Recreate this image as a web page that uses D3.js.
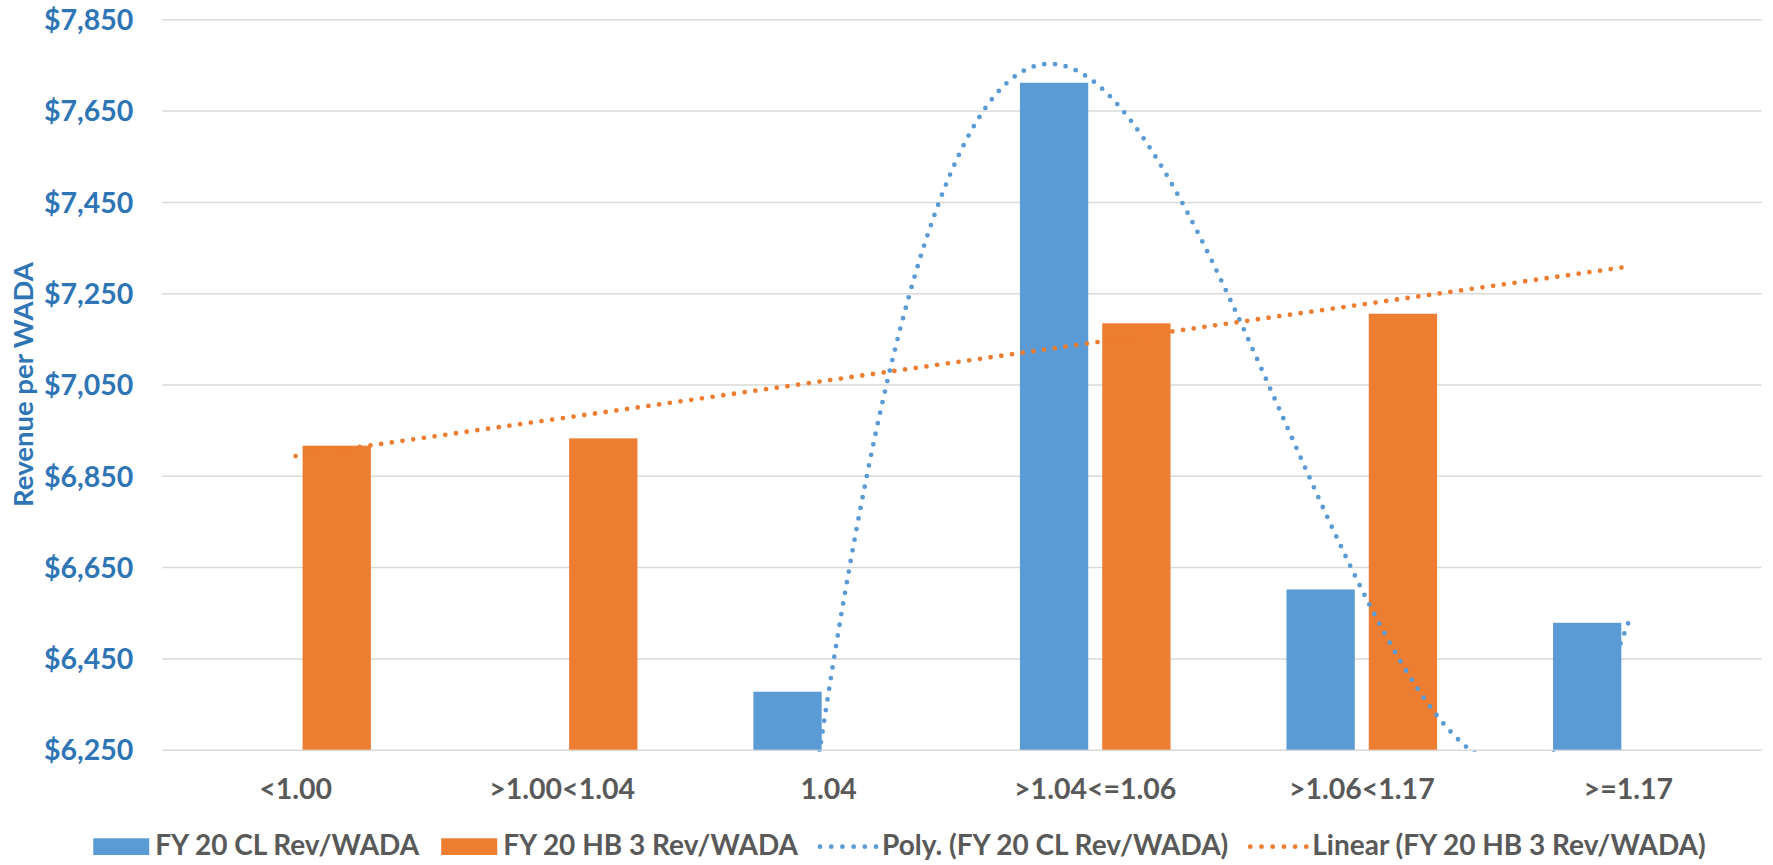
<!DOCTYPE html>
<html>
<head>
<meta charset="utf-8">
<script src="https://cdn.jsdelivr.net/npm/d3@7"></script>
<style>
  html, body { margin: 0; padding: 0; background: #ffffff; }
  svg { display: block; font-family: Lato, "Open Sans", sans-serif; font-weight: 700; }
</style>
</head>
<body>
<svg id="chart" width="1773" height="865"></svg>
<script>
// Categories and series
const categories = ["<1.00", ">1.00<1.04", "1.04", ">1.04<=1.06", ">1.06<1.17", ">=1.17"];
const seriesNames = ["FY 20 CL Rev/WADA", "FY 20 HB 3 Rev/WADA"];
const clValues = [null, null, 6377, 7711, 6601, 6528];
const hbValues = [6916, 6932, null, 7184, 7205, null];
const yTicks = [6250, 6450, 6650, 6850, 7050, 7250, 7450, 7650, 7850];
const trendNames = ["Poly. (FY 20 CL Rev/WADA)", "Linear (FY 20 HB 3 Rev/WADA)"];

const BLUE = "#5B9BD5", ORANGE = "#ED7D31", AXISBLUE = "#2E75B6", GREY = "#595959", GRID = "#D9D9D9";

const svg = d3.select("#chart");
const plot = { left: 162.3, right: 1761.6, top: 19.3, bottom: 749.7 };

const x0 = d3.scaleBand().domain(categories).range([plot.left, plot.right]).padding(0);
const x1 = d3.scaleBand().domain(seriesNames).range([0, x0.bandwidth()])
  .paddingInner(0.17).paddingOuter(0.7045);
const y = d3.scaleLinear().domain([6250, 7850]).range([plot.bottom, plot.top]);

// category index (1-based, as a trendline sees it) -> pixel x at band centre
const xIdx = i => x0(categories[0]) + (i - 0.5) * x0.bandwidth();

// Gridlines + value axis
const yAxis = d3.axisLeft(y).tickValues(yTicks)
  .tickFormat(v => "$" + d3.format(",")(v))
  .tickSize(-(plot.right - plot.left)).tickPadding(29);
const gy = svg.append("g").attr("transform", `translate(${plot.left},0)`).call(yAxis);
gy.select(".domain").remove();
gy.selectAll(".tick line").attr("stroke", GRID).attr("stroke-width", 1.5);
gy.selectAll(".tick text").attr("fill", AXISBLUE).attr("font-size", 28.5)
  .attr("font-family", "Lato, sans-serif").attr("font-weight", 700).attr("dy", "0.36em");

// Category axis labels
const gx = svg.append("g").attr("transform", `translate(0,${plot.bottom})`)
  .call(d3.axisBottom(x0).tickSize(0).tickPadding(0));
gx.select(".domain").remove();
gx.selectAll(".tick text").attr("fill", GREY).attr("font-size", 28.5)
  .attr("font-family", "Lato, sans-serif").attr("font-weight", 700)
  .attr("dy", null).attr("y", 49.6);

// Bars
const rows = categories.map((c, i) => ({ c, vals: [clValues[i], hbValues[i]] }));
const colors = [BLUE, ORANGE];
const barG = svg.append("g");
rows.forEach(r => {
  r.vals.forEach((v, k) => {
    if (v == null) return;
    barG.append("rect")
      .attr("x", x0(r.c) + x1(seriesNames[k]))
      .attr("width", x1.bandwidth())
      .attr("y", y(v))
      .attr("height", y(6250) - y(v))
      .attr("fill", colors[k]);
  });
});

// Trendlines
svg.append("clipPath").attr("id", "plotclip").append("rect")
  .attr("x", plot.left).attr("y", plot.top - 20)
  .attr("width", plot.right - plot.left).attr("height", plot.bottom - plot.top + 22);

function points(vals) {
  return vals.map((v, i) => ({ x: i + 1, v })).filter(p => p.v != null);
}
// least squares polynomial of given order
function polyFit(pts, order) {
  const n = order + 1;
  const A = Array.from({ length: n }, () => new Array(n + 1).fill(0));
  pts.forEach(p => {
    for (let r = 0; r < n; r++) {
      for (let c = 0; c < n; c++) A[r][c] += Math.pow(p.x, r + c);
      A[r][n] += p.v * Math.pow(p.x, r);
    }
  });
  for (let i = 0; i < n; i++) {
    let m = i;
    for (let r = i + 1; r < n; r++) if (Math.abs(A[r][i]) > Math.abs(A[m][i])) m = r;
    [A[i], A[m]] = [A[m], A[i]];
    for (let r = 0; r < n; r++) {
      if (r === i) continue;
      const f = A[r][i] / A[i][i];
      for (let c = i; c <= n; c++) A[r][c] -= f * A[i][c];
    }
  }
  const coef = A.map((row, i) => row[n] / row[i]);
  return xv => coef.reduce((s, a, k) => s + a * Math.pow(xv, k), 0);
}

const clPts = points(clValues), hbPts = points(hbValues);
const polyF = polyFit(clPts, 3);
const linF = polyFit(hbPts, 1);

const line = d3.line().x(d => xIdx(d[0])).y(d => y(d[1]));
function trend(f, x0v, x1v, color) {
  const data = d3.range(0, 401).map(k => {
    const xv = x0v + (x1v - x0v) * k / 400;
    return [xv, f(xv)];
  });
  svg.append("path").attr("clip-path", "url(#plotclip)")
    .attr("d", line(data)).attr("fill", "none").attr("stroke", color)
    .attr("stroke-width", 4.8).attr("stroke-linecap", "round")
    .attr("stroke-dasharray", "0 10.8");
}
trend(polyF, clPts[0].x - 0.035, clPts[clPts.length - 1].x, BLUE);
trend(linF, hbPts[0].x, 6, ORANGE);

// Value axis title
svg.append("text")
  .attr("transform", `translate(33.3,${(plot.top + plot.bottom) / 2}) rotate(-90)`)
  .attr("text-anchor", "middle").attr("fill", AXISBLUE)
  .attr("font-size", 27.5).text("Revenue per WADA");

// Legend
const legend = svg.append("g");
const items = [
  { name: seriesNames[0], color: BLUE, kind: "box" },
  { name: seriesNames[1], color: ORANGE, kind: "box" },
  { name: trendNames[0], color: BLUE, kind: "dots" },
  { name: trendNames[1], color: ORANGE, kind: "dots" }
];
const baseY = 855, swW = 56, swGap = 6, itemGap = 22;
let cx = 0;
items.forEach(it => {
  const g = legend.append("g").attr("transform", `translate(${cx},0)`);
  if (it.kind === "box") {
    g.append("rect").attr("x", 0).attr("y", baseY - 16.7).attr("width", swW).attr("height", 16.7)
      .attr("fill", it.color);
  } else {
    g.append("line").attr("x1", 0).attr("x2", swW).attr("y1", baseY - 8.3).attr("y2", baseY - 8.3)
      .attr("stroke", it.color).attr("stroke-width", 4.8).attr("stroke-linecap", "round")
      .attr("stroke-dasharray", `0 ${swW / 5}`);
  }
  const t = g.append("text").attr("x", swW + swGap).attr("y", baseY)
    .attr("fill", GREY).attr("font-size", 28).text(it.name);
  cx += swW + swGap + t.node().getComputedTextLength() + itemGap;
});
const total = cx - itemGap;
legend.attr("transform", `translate(${899.5 - total / 2},0)`);
</script>
</body>
</html>
